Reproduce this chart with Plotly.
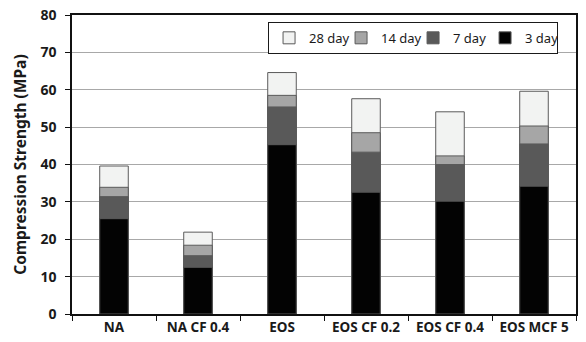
import plotly.graph_objects as go

categories = ["NA", "NA CF 0.4", "EOS", "EOS CF 0.2", "EOS CF 0.4", "EOS MCF 5"]
day28 = [39.6, 21.9, 64.6, 57.6, 54.1, 59.6]
day14 = [33.9, 18.4, 58.5, 48.5, 42.3, 50.3]
day7 = [31.4, 15.6, 55.4, 43.3, 40.0, 45.5]
day3 = [25.5, 12.5, 45.3, 32.6, 30.2, 34.2]

series = [
    ("28 day", day28, "#f2f3f2"),
    ("14 day", day14, "#a6a6a6"),
    ("7 day", day7, "#595959"),
    ("3 day", day3, "#030303"),
]

fig = go.Figure()
for name, vals, color in series:
    fig.add_trace(go.Bar(
        x=categories, y=vals, name=name,
        marker=dict(color=color, line=dict(color="#5a5a5a", width=1)),
    ))

fig.update_layout(
    width=578, height=334,
    barmode="overlay", bargap=0.66,
    plot_bgcolor="white", paper_bgcolor="white",
    margin=dict(l=64, r=10, t=7, b=28),
    font=dict(family="Noto Sans", color="#1a1a1a"),
    legend=dict(
        orientation="h", x=0.389, y=0.977, xanchor="left", yanchor="top",
        bordercolor="#1a1a1a", borderwidth=1, bgcolor="white",
        font=dict(size=13), entrywidth=27, itemwidth=30,
        tracegroupgap=0,
    ),
    showlegend=True,
)
fig.update_xaxes(
    automargin=False, tickangle=0,
    showline=True, linecolor="#111", linewidth=1.5, mirror=True,
    ticks="outside", ticklen=5, tickcolor="#111", tickson="boundaries",
    tickfont=dict(size=13.5, family="Noto Sans", weight="bold", color="#1a1a1a"),
    showgrid=False,
)
fig.update_yaxes(
    automargin=False, ticklabeloverflow="allow",
    range=[0, 80], dtick=10,
    showline=True, linecolor="#111", linewidth=1.5, mirror=True,
    ticks="outside", ticklen=5, tickcolor="#111", ticklabelstandoff=6,
    gridcolor="#a8a8a8", gridwidth=1,
    tickfont=dict(size=14, family="Noto Sans", weight="bold", color="#1a1a1a"),
    title=dict(text="Compression Strength (MPa)", standoff=10,
               font=dict(size=15.5, family="Noto Sans", weight="bold", color="#1a1a1a")),
)

fig.write_html("out.html")
